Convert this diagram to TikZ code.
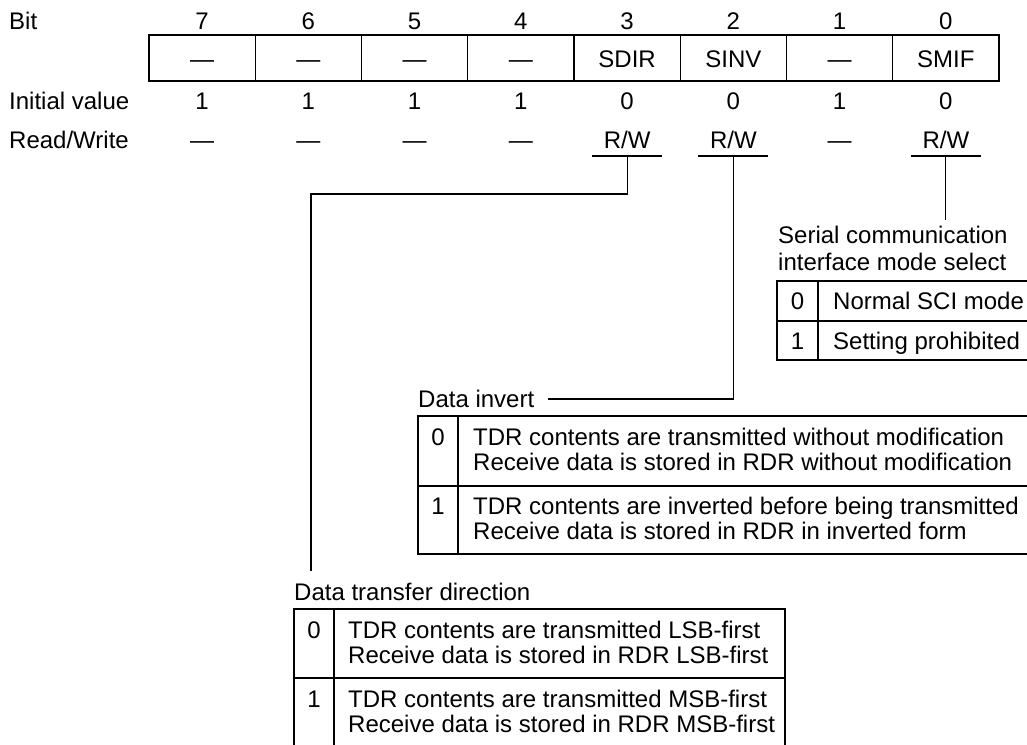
\documentclass[tikz,border=0pt]{standalone}
\usepackage{fontspec}
\setmainfont{Liberation Sans}
\newcommand\regfont{\fontsize{24}{26}\selectfont}
\begin{document}
\begin{tikzpicture}[x=1pt,y=-1pt,
  txt/.style={inner sep=0pt, text height=17.2pt, text depth=0pt, font=\regfont},
  lbl/.style={txt, anchor=west},
  frame/.style={line width=1.2pt},
  conn/.style={line width=1.05pt}]
\useasboundingbox (0,0) rectangle (1027,744);
\clip (0,0) rectangle (1027,744);
% left labels
\node[lbl] (lbit) at (9,21) {Bit};
\node[lbl] (linit) at (9,100.5) {Initial value};
\node[lbl] (lrw) at (9,139.5) {Read/Write};
% register
\draw[frame] (149,35) rectangle (999,81);
\foreach \i in {1,...,7} \draw[frame] ({149+106.25*\i},35) -- ({149+106.25*\i},81);
\foreach \t [count=\i from 0] in {7,6,5,4,3,2,1,0}
  \node[txt] (bit\i) at ({202.125+106.25*\i},21) {\t};
\foreach \t [count=\i from 0] in {—,—,—,—,SDIR,SINV,—,SMIF}
  \node[txt] (cell\i) at ({202.125+106.25*\i},59) {\t};
\foreach \t [count=\i from 0] in {1,1,1,1,0,0,1,0}
  \node[txt] (init\i) at ({202.125+106.25*\i},100.5) {\t};
\foreach \i in {0,1,2,3,6}
  \node[txt] (rw\i) at ({202.125+106.25*\i},139.5) {—};
\node[txt] (rw4) at (627.125,139.5) {R/W};
\node[txt] (rw5) at (733.375,139.5) {R/W};
\node[txt] (rw7) at (945.875,139.5) {R/W};
% underlines
\coordinate (u4) at (627.125,156);
\coordinate (u5) at (733.375,156);
\coordinate (u7) at (945.875,156);
\foreach \u in {u4,u5,u7} \draw[conn] ([xshift=-35pt]\u) -- ([xshift=35pt]\u);
% SMIF description
\node[lbl] (smifa) at (778,235) {Serial communication};
\node[lbl] (smifb) at (778,262) {interface mode select};
\draw[frame] (777,281) rectangle (1040,360);
\draw[frame] (777,321) -- (1040,321);
\draw[frame] (818,281) -- (818,360);
\node[txt] (s0) at (797.5,301) {0};
\node[lbl] (s0t) at (833,301) {Normal SCI mode};
\node[txt] (s1) at (797.5,340.5) {1};
\node[lbl] (s1t) at (833,340.5) {Setting prohibited};
\coordinate (d7) at (945.875,220);
\draw[conn] (u7) -- (d7);
% SINV description
\node[lbl] (dinv) at (418,399) {Data invert};
\draw[conn] (u5) |- ([xshift=14pt]dinv.east);
\draw[frame] (418,416) rectangle (1040,554);
\draw[frame] (418,486) -- (1040,486);
\draw[frame] (458,416) -- (458,554);
\node[txt] (i0) at (438,436.5) {0};
\node[lbl] (i0a) at (473,436.5) {TDR contents are transmitted without modification};
\node[lbl] (i0b) at (473,461.5) {Receive data is stored in RDR without modification};
\node[txt] (i1) at (438,505.5) {1};
\node[lbl] (i1a) at (473,505.5) {TDR contents are inverted before being transmitted};
\node[lbl] (i1b) at (473,530.5) {Receive data is stored in RDR in inverted form};
% SDIR description
\node[lbl] (ddir) at (294,592) {Data transfer direction};
\coordinate (d4) at (311,571);
\draw[conn] (u4) -- ++(0,38) -| (d4);
\draw[frame] (294,760) -- (294,609) -- (785,609) -- (785,760);
\draw[frame] (294,678) -- (785,678);
\draw[frame] (334,609) -- (334,760);
\node[txt] (t0) at (314,629.5) {0};
\node[lbl] (t0a) at (348,629.5) {TDR contents are transmitted LSB-first};
\node[lbl] (t0b) at (348,654.5) {Receive data is stored in RDR LSB-first};
\node[txt] (t1) at (314,698.5) {1};
\node[lbl] (t1a) at (348,698.5) {TDR contents are transmitted MSB-first};
\node[lbl] (t1b) at (348,723.5) {Receive data is stored in RDR MSB-first};
\end{tikzpicture}
\end{document}
